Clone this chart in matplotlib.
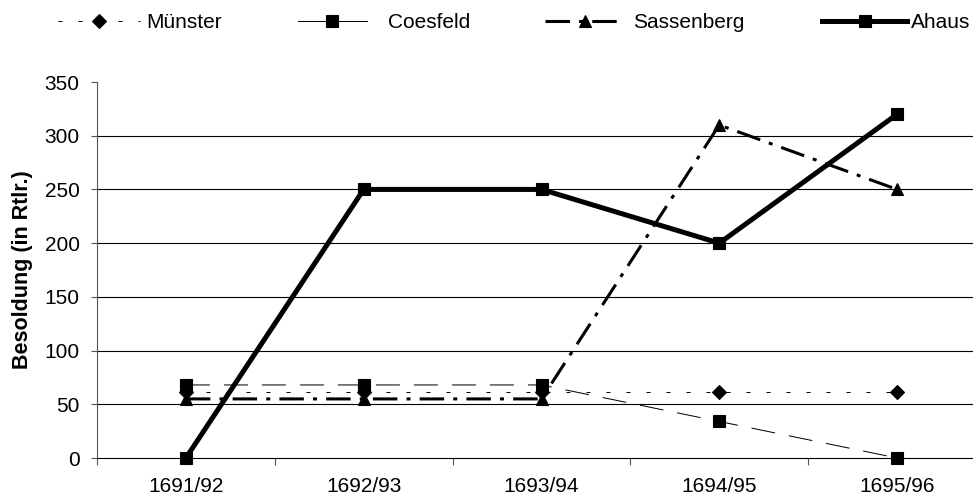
import matplotlib.pyplot as plt
from matplotlib.lines import Line2D

plt.rcParams['font.family'] = ['Liberation Sans', 'DejaVu Sans']

years = ["1691/92", "1692/93", "1693/94", "1694/95", "1695/96"]
muenster = [61, 61, 61, 61, 61]
coesfeld = [68, 68, 68, 34, 0]
sassenberg = [55, 55, 55, 310, 250]
ahaus = [0, 250, 250, 200, 320]

# line styles (shared by plot and legend)
st_mue = dict(color="black", lw=0.72, ls=(0, (4, 16)), marker="D", ms=7, mew=0.8)
st_coe = dict(color="black", lw=0.72, ls=(0, (24, 14)), marker="s", ms=8.5, mew=0.8)
st_sas = dict(color="black", lw=2.2, ls=(0, (8, 3, 1.3, 3)), marker="^", ms=8.5, mew=0.8)
st_aha = dict(color="black", lw=3.6, ls="-", marker="s", ms=9, mew=0.8)

fig = plt.figure(figsize=(9.73, 4.99), dpi=100)
ax = fig.add_axes([97 / 973, 41 / 499, 889 / 973, 376 / 499])

x = list(range(len(years)))
ax.plot(x, muenster, clip_on=False, **st_mue)
ax.plot(x, coesfeld, clip_on=False, **st_coe)
ax.plot(x, sassenberg, clip_on=False, **st_sas)
ax.plot(x, ahaus, clip_on=False, **st_aha)

ax.set_xlim(-0.5, 4.5)
ax.set_ylim(0, 350)
ax.set_yticks(range(0, 351, 50))
ax.set_xticks(x)
ax.set_xticklabels(years)
ax.set_xticks([i + 0.5 for i in range(-1, 5)], minor=True)
ax.tick_params(axis="x", which="major", length=0, pad=14, labelsize=15)
ax.tick_params(axis="x", which="minor", length=5, width=0.8, direction="out", color="#555555")
ax.tick_params(axis="y", length=4.5, width=0.8, labelsize=15, pad=8, color="#555555")
for v in range(50, 301, 50):
    ax.axhline(v, color="black", lw=0.8, zorder=0)
ax.spines["top"].set_visible(False)
ax.spines["right"].set_visible(False)
ax.spines["left"].set_color("#555555")
ax.spines["left"].set_linewidth(0.8)
ax.spines["bottom"].set_color("black")
ax.spines["bottom"].set_linewidth(0.8)
ax.set_ylabel("Besoldung (in Rtlr.)", fontsize=15.5, fontweight="bold")
ax.yaxis.set_label_coords((33 - 97) / 889, 0.5)

# legend entries placed one by one like the original
labels = ["Münster", "Coesfeld", "Sassenberg", "Ahaus"]
styles = [st_mue, dict(st_coe, ls="-"), st_sas, st_aha]
starts = [58, 298, 545, 822]
hlens = [3.95, 3.3, 3.85, 4.1]
tpads = [0.3, 1.0, 0.4, 0.15]
for lab, st, xs, hl, tp in zip(labels, styles, starts, hlens, tpads):
    fig.legend([Line2D([], [], **st)], [lab], loc="center left",
               bbox_to_anchor=(xs / 973, 1 - 23 / 499), frameon=False,
               fontsize=15, handlelength=hl, handletextpad=tp,
               borderpad=0, borderaxespad=0)

fig.savefig("out.png", dpi=100)
